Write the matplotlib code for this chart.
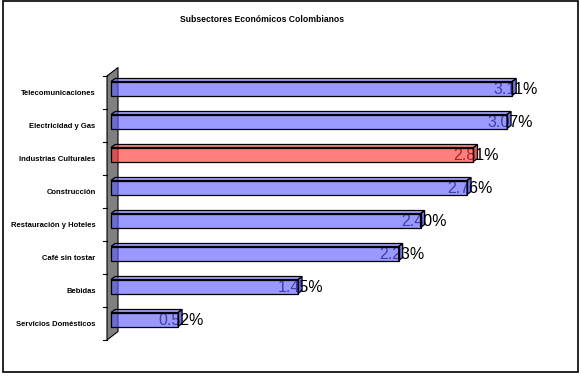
import numpy as np
import matplotlib
matplotlib.use("Agg")
import matplotlib.pyplot as plt
from matplotlib.patches import Polygon, Rectangle

plt.rcParams['font.family'] = ['Liberation Sans', 'DejaVu Sans']

# datos
sectores = ["Telecomunicaciones", "Electricidad y Gas", "Industrias Culturales",
            "Construcción", "Restauración y Hoteles", "Café sin tostar",
            "Bebidas", "Servicios Domésticos"]
valores = [3.11, 3.07, 2.81, 2.76, 2.40, 2.23, 1.45, 0.52]
etiquetas = ["3.11%", "3.07%", "2.81%", "2.76%", "2.40%", "2.23%", "1.45%", "0.52%"]
resaltado = "Industrias Culturales"
titulo = "Subsectores Económicos Colombianos"

W, H = 581, 376
fig = plt.figure(figsize=(W / 100, H / 100), dpi=100)

# ejes en pixeles de la figura
x0, px_unidad = 111, 129
xmax = 3.5
y_arriba, y_abajo = 76, 340
ax = fig.add_axes([x0 / W, (H - y_abajo) / H, px_unidad * xmax / W, (y_abajo - y_arriba) / H])
n = len(sectores)
ax.set_xlim(0, xmax)
ax.set_ylim(-0.5, n - 0.5)
py_unidad = (y_abajo - y_arriba) / n

def px_x(p):
    return p / px_unidad

def px_y(p):
    return p / py_unidad

# pared gris
wx, wd_x, wd_y = px_x(-4), px_x(11), px_y(8.5)
pared = Polygon([(wx, -0.5), (wx + wd_x, -0.5 + wd_y), (wx + wd_x, n - 0.5 + wd_y), (wx, n - 0.5)],
                closed=True, facecolor="#808080", edgecolor="black", lw=0.8, clip_on=False, zorder=0)
ax.add_patch(pared)
for b in np.arange(-0.5, n, 1.0):
    ax.plot([wx - px_x(4), wx], [b, b], color="black", lw=0.8, clip_on=False)

# barras 3D (semi transparentes: sobre blanco dan #9999FF / #FF8080)
alfa = 0.65
alto = px_y(14)
dx, dy = px_x(4), px_y(3)
for i, (s, v, lab) in enumerate(zip(sectores, valores, etiquetas)):
    y = n - 1 - i + px_y(4)
    if s == resaltado:
        cf, ct, cs = (1.0, 0.23, 0.23), (1.0, 0.3, 0.3), (0.62, 0.08, 0.08)
    else:
        cf, ct, cs = (0.385, 0.385, 1.0), (0.45, 0.45, 1.0), (0.15, 0.15, 0.77)
    yb, yt = y - alto / 2, y + alto / 2
    frente = [(0, yb), (v, yb), (v, yt), (0, yt)]
    tapa = [(0, yt), (v, yt), (v + dx, yt + dy), (dx, yt + dy)]
    lado = [(v, yb), (v + dx, yb + dy), (v + dx, yt + dy), (v, yt)]
    for pts, c in [(frente, cf), (tapa, ct), (lado, cs)]:
        ax.add_patch(Polygon(pts, closed=True, facecolor=c, alpha=alfa, lw=0, zorder=3, clip_on=False))
        ax.add_patch(Polygon(pts, closed=True, facecolor="none", edgecolor="black", lw=0.9, zorder=4, clip_on=False))
    ax.text(v + px_x(3), y - px_y(1), lab, ha="center", va="center", fontsize=11.5,
            color="black", zorder=2, clip_on=False)

ax.set_yticks(np.arange(n - 1, -1, -1))
ax.set_yticklabels(sectores, fontsize=5.5, fontweight="bold")
ax.tick_params(axis="y", length=0, pad=11)
ax.set_xticks([])
for sp in ax.spines.values():
    sp.set_visible(False)
ax.patch.set_visible(False)

fig.text(262 / W, 1 - 20 / H, titulo, ha="center", va="center", fontsize=6.2, fontweight="bold")
fig.patches.append(Rectangle((3 / W, 4 / H), 575 / W, 371 / H, transform=fig.transFigure,
                             facecolor="none", edgecolor="black", lw=1.2))

fig.savefig("out.png", dpi=100)
